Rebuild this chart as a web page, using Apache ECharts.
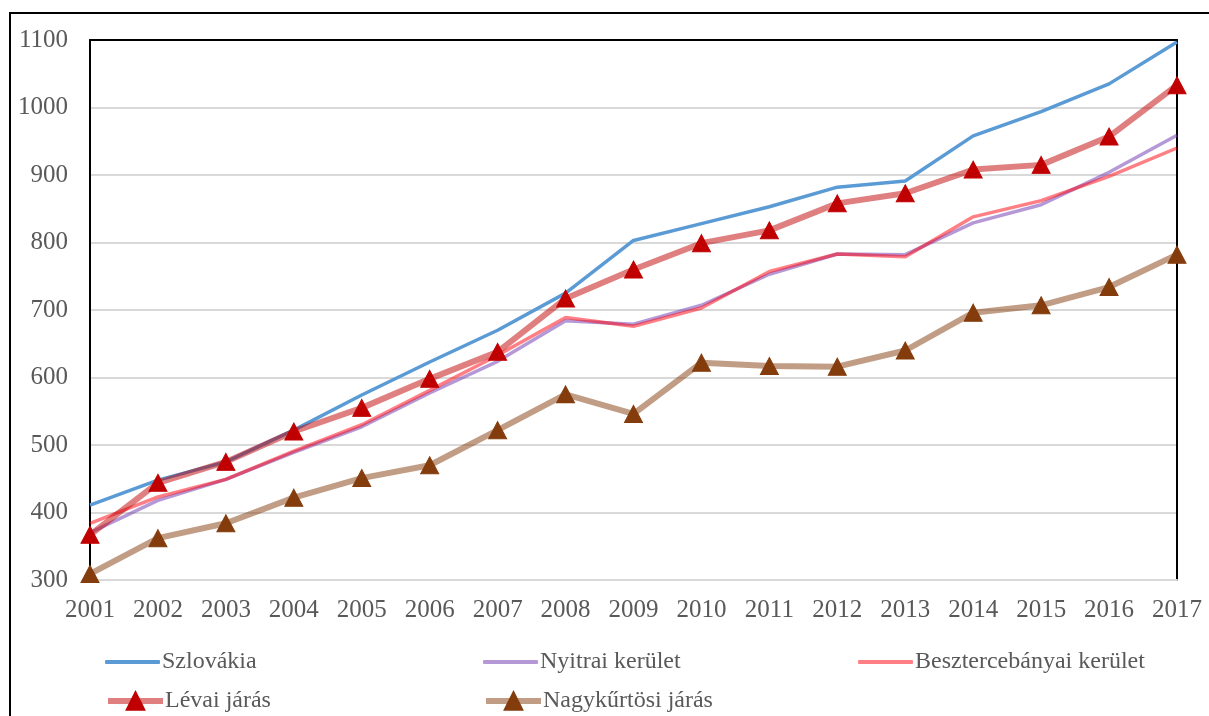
<!DOCTYPE html>
<html>
<head>
<meta charset="utf-8">
<script src="https://cdn.jsdelivr.net/npm/echarts@6/dist/echarts.min.js"></script>
<style>
html,body{margin:0;padding:0;background:#fff;}
#chart{width:1209px;height:716px;}
</style>
</head>
<body>
<div id="chart"></div>
<script>
var years = ['2001','2002','2003','2004','2005','2006','2007','2008','2009','2010','2011','2012','2013','2014','2015','2016','2017'];
var szlovakia = [411, 448, 475, 522, 574, 623, 670, 725, 803, 828, 853, 882, 891, 958, 994, 1035, 1097];
var nyitrai = [370, 418, 449, 489, 527, 577, 624, 684, 679, 707, 753, 783, 782, 829, 856, 904, 959];
var besztercebanyai = [384, 423, 449, 491, 530, 581, 633, 689, 676, 703, 757, 783, 779, 838, 862, 898, 940];
var levai = [367, 444, 475, 520, 555, 598, 638, 717, 760, 799, 818, 858, 873, 908, 915, 957, 1033];
var nagykurtosi = [309, 362, 384, 422, 451, 470, 522, 575, 546, 622, 617, 616, 640, 696, 707, 734, 782];
var yTicks = {min: 300, max: 1100, interval: 100};

var FONT = '"Liberation Serif", "Times New Roman", serif';
var txt = {fontFamily: FONT, fontSize: 25, color: '#595959'};
var ltxt = {fontFamily: FONT, fontSize: 24, color: '#595959'};

var chart = echarts.init(document.getElementById('chart'));

function legendLine(name, left, top) {
  return {
    data: [name], left: left, top: top, padding: 0,
    icon: 'roundRect', itemWidth: 55, itemHeight: 4, itemGap: 0,
    textStyle: Object.assign({padding: [0,0,0,-3]}, ltxt)
  };
}
function legendMarker(name, left, top) {
  return {
    data: [name], left: left, top: top, padding: 0,
    itemWidth: 55, itemHeight: 22, itemGap: 0,
    lineStyle: {width: 6},
    textStyle: Object.assign({padding: [0,0,0,-3]}, ltxt)
  };
}

chart.setOption({
  animation: false,
  backgroundColor: '#fff',
  graphic: [{
    type: 'rect', shape: {x: 10, y: 13, width: 1300, height: 800},
    style: {fill: 'none', stroke: '#000', lineWidth: 2}, silent: true
  }],
  grid: {left: 90, right: 32, top: 40, bottom: 136},
  legend: [
    legendLine('Szlovákia', 105, 650),
    legendLine('Nyitrai kerület', 483, 650),
    legendLine('Besztercebányai kerület', 858, 650),
    legendMarker('Lévai járás', 105, 689),
    legendMarker('Nagykűrtösi járás', 483, 689)
  ],
  xAxis: [{
    type: 'category', data: years, boundaryGap: false,
    axisLine: {show: true, lineStyle: {color: '#D9D9D9', width: 2}},
    axisTick: {show: false},
    axisLabel: Object.assign({margin: 18, interval: 0}, txt),
    splitLine: {show: false}
  }, {
    type: 'category', data: years, boundaryGap: false, position: 'top',
    axisLine: {show: true, lineStyle: {color: '#000', width: 2}},
    axisTick: {show: false}, axisLabel: {show: false}, splitLine: {show: false}
  }],
  yAxis: [{
    type: 'value', min: yTicks.min, max: yTicks.max, interval: yTicks.interval,
    axisLine: {show: true, lineStyle: {color: '#000', width: 2}},
    axisTick: {show: false},
    axisLabel: Object.assign({margin: 22, formatter: function (v) { return String(v); }}, txt),
    splitLine: {show: true, lineStyle: {color: '#D9D9D9', width: 2}}
  }, {
    type: 'value', min: yTicks.min, max: yTicks.max, interval: yTicks.interval, position: 'right',
    axisLine: {show: true, lineStyle: {color: '#000', width: 2}},
    axisTick: {show: false}, axisLabel: {show: false}, splitLine: {show: false}
  }],
  series: [{
    name: 'Szlovákia', type: 'line', data: szlovakia, symbol: 'none',
    lineStyle: {color: '#5B9BD5', width: 3.5}, itemStyle: {color: '#5B9BD5'}
  }, {
    name: 'Nyitrai kerület', type: 'line', data: nyitrai, symbol: 'none',
    lineStyle: {color: 'rgba(120,70,180,0.55)', width: 3.5}, itemStyle: {color: 'rgba(120,70,180,0.55)'}
  }, {
    name: 'Besztercebányai kerület', type: 'line', data: besztercebanyai, symbol: 'none',
    lineStyle: {color: 'rgba(255,0,10,0.5)', width: 3.5}, itemStyle: {color: 'rgba(255,0,10,0.5)'}
  }, {
    name: 'Lévai járás', type: 'line', data: levai, symbol: 'triangle', symbolSize: [18, 17],
    lineStyle: {color: 'rgba(192,0,0,0.5)', width: 6},
    itemStyle: {color: '#C00000', borderColor: '#C00000', borderWidth: 1}
  }, {
    name: 'Nagykűrtösi járás', type: 'line', data: nagykurtosi, symbol: 'triangle', symbolSize: [18, 17],
    lineStyle: {color: 'rgba(132,60,12,0.5)', width: 6},
    itemStyle: {color: '#843C0C', borderColor: '#843C0C', borderWidth: 1}
  }]
});
</script>
</body>
</html>
